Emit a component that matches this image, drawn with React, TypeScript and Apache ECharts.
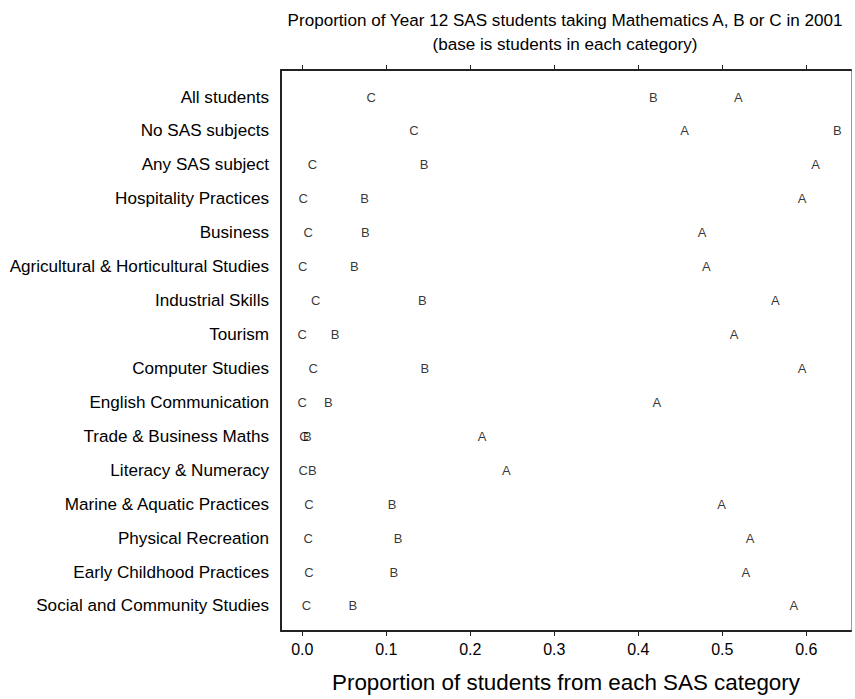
import React, { useEffect, useRef } from "react";
import * as echarts from "echarts";

// Categories of SAS students, top to bottom
const categories = [
  "All students",
  "No SAS subjects",
  "Any SAS subject",
  "Hospitality Practices",
  "Business",
  "Agricultural & Horticultural Studies",
  "Industrial Skills",
  "Tourism",
  "Computer Studies",
  "English Communication",
  "Trade & Business Maths",
  "Literacy & Numeracy",
  "Marine & Aquatic Practices",
  "Physical Recreation",
  "Early Childhood Practices",
  "Social and Community Studies",
];

// Proportion taking each mathematics subject
const mathsA = [0.519, 0.455, 0.611, 0.595, 0.476, 0.481, 0.563, 0.514, 0.595, 0.422, 0.214, 0.243, 0.499, 0.533, 0.528, 0.585];
const mathsB = [0.418, 0.637, 0.145, 0.074, 0.075, 0.062, 0.143, 0.039, 0.146, 0.031, 0.006, 0.012, 0.107, 0.114, 0.109, 0.06];
const mathsC = [0.082, 0.133, 0.012, 0.001, 0.007, 0.0005, 0.016, 0.0, 0.013, 0.0, 0.002, 0.001, 0.008, 0.007, 0.008, 0.005];

const xTicks = [0, 0.1, 0.2, 0.3, 0.4, 0.5, 0.6];

const FONT = "Arial, 'Liberation Sans', Helvetica, sans-serif";

const letterSeries = (letter: string, values: number[]) => ({
  type: "scatter",
  name: letter,
  xAxisIndex: 0,
  yAxisIndex: 0,
  symbol: "circle",
  symbolSize: 1,
  itemStyle: { color: "rgba(0,0,0,0)" },
  label: {
    show: true,
    position: "inside",
    formatter: letter,
    color: "#000",
    fontSize: 13,
    fontFamily: FONT,
  },
  emphasis: { disabled: true },
  data: values.map((v, i) => [v, i + 1]),
});

export default function App() {
  const ref = useRef<HTMLDivElement>(null);

  useEffect(() => {
    if (!ref.current) return;
    const chart = echarts.init(ref.current, null, { renderer: "svg" });
    const xMin = -0.02536;
    const xMax = 0.6532;
    const yMin = 0.204;
    const yMax = 16.737;
    const rowValues = categories.map((_, i) => i + 1);

    chart.setOption({
      animation: false,
      backgroundColor: "#fff",
      textStyle: { fontFamily: FONT },
      grid: { left: 281, right: 4, top: 70, bottom: 68, containLabel: false },
      graphic: [
        {
          type: "text",
          x: 565,
          y: 20,
          style: {
            text: "Proportion of Year 12 SAS students taking Mathematics A, B or C in 2001",
            fontSize: 17.1,
            fontFamily: FONT,
            fill: "#000",
            textAlign: "center",
            textVerticalAlign: "middle",
          },
        },
        {
          type: "text",
          x: 565,
          y: 44,
          style: {
            text: "(base is students in each category)",
            fontSize: 17.1,
            fontFamily: FONT,
            fill: "#000",
            textAlign: "center",
            textVerticalAlign: "middle",
          },
        },
      ],
      xAxis: [
        {
          type: "value",
          position: "bottom",
          min: xMin,
          max: xMax,
          name: "Proportion of students from each SAS category",
          nameLocation: "middle",
          nameGap: 40,
          nameTextStyle: { fontSize: 22.4, color: "#000", fontFamily: FONT },
          axisLine: { show: true, onZero: false, lineStyle: { color: "#222", width: 2 } },
          axisTick: { show: true, length: 5, customValues: xTicks, lineStyle: { color: "#222" } },
          axisLabel: {
            show: true,
            customValues: xTicks,
            formatter: (v: number) => v.toFixed(1),
            fontSize: 16,
            color: "#000",
            margin: 10,
            fontFamily: FONT,
          },
          splitLine: { show: false },
        },
        {
          type: "value",
          position: "top",
          min: xMin,
          max: xMax,
          axisLine: { show: true, onZero: false, lineStyle: { color: "#222", width: 2 } },
          axisTick: { show: true, length: 5, customValues: xTicks, lineStyle: { color: "#222" } },
          axisLabel: { show: false },
          splitLine: { show: false },
        },
      ],
      yAxis: [
        {
          type: "value",
          inverse: true,
          position: "left",
          min: yMin,
          max: yMax,
          axisLine: { show: true, onZero: false, lineStyle: { color: "#222", width: 2 } },
          axisTick: { show: false },
          axisLabel: {
            show: true,
            customValues: rowValues,
            formatter: (v: number) => categories[Math.round(v) - 1] ?? "",
            fontSize: 17.1,
            color: "#000",
            margin: 12,
            fontFamily: FONT,
          },
          splitLine: { show: false },
        },
        {
          type: "value",
          inverse: true,
          position: "right",
          min: yMin,
          max: yMax,
          axisLine: { show: true, onZero: false, lineStyle: { color: "#999", width: 1 } },
          axisTick: { show: false },
          axisLabel: { show: false },
          splitLine: { show: false },
        },
      ],
      series: [
        letterSeries("C", mathsC),
        letterSeries("B", mathsB),
        letterSeries("A", mathsA),
      ],
    });

    return () => chart.dispose();
  }, []);

  return (
    <div
      ref={ref}
      style={{ position: "fixed", left: 0, top: 0, width: 855, height: 699 }}
    />
  );
}
